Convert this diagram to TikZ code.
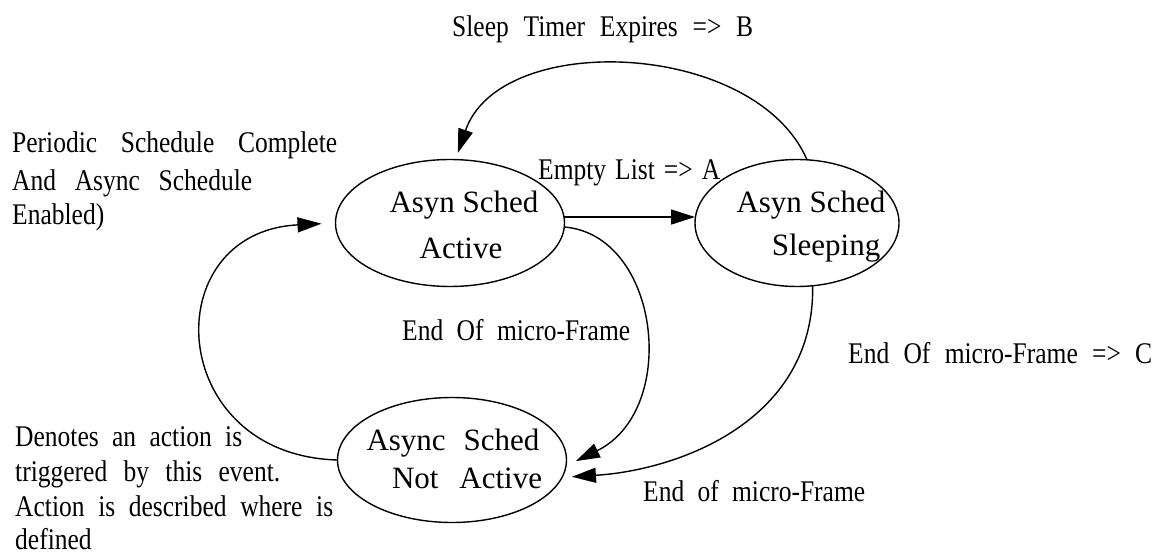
\documentclass[tikz,border=0pt]{standalone}
\usepackage{fontspec}
\setmainfont{Liberation Serif}
\newfontfamily\cond[FakeStretch=0.85]{Liberation Serif}
\usetikzlibrary{shapes.geometric,arrows.meta}
\tikzset{
  state/.style={draw, ellipse, line width=1.4pt, inner sep=0pt, outer sep=0pt},
  lbl/.style={inner sep=0pt, anchor=base west, font=\cond\fontsize{30}{30}\selectfont},
  stxt/.style={inner sep=0pt, anchor=base, font=\fontsize{31}{31}\selectfont},
  conn/.style={line width=1.4pt, -{Triangle[length=24pt,width=15pt]}},
}
\begin{document}
\begin{tikzpicture}[x=1pt,y=-1pt]
\useasboundingbox (0,0) rectangle (1156,556);
% states
\node[state, minimum width=229pt, minimum height=127pt] (act) at (450,223) {};
\node[state, minimum width=204pt, minimum height=127pt] (slp) at (797,223) {};
\node[state, minimum width=229pt, minimum height=125pt] (nact) at (452,460) {};
% state texts
\node[stxt] (act1) at (464,213) {Asyn Sched};
\node[stxt] (act2) at (461,258) {Active};
\node[stxt] (slp1) at (811,212) {Asyn Sched};
\node[stxt] (slp2) at (826,255) {Sleeping};
\node[stxt] (nact1) at (453,450) {\makebox[173pt][s]{Async Sched}};
\node[stxt] (nact2) at (467,488) {\makebox[150pt][s]{Not Active}};
% annotations
\node[lbl] (sleep) at (452,37) {\makebox[301pt][s]{Sleep Timer Expires => B}};
\node[lbl] (per1) at (12,153) {\makebox[325pt][s]{Periodic Schedule Complete}};
\node[lbl] (per2) at (12,190) {\makebox[240pt][s]{And Async Schedule}};
\node[lbl] (per3) at (12,224) {Enabled)};
\node[lbl] (empty) at (538,180) {\makebox[182pt][s]{Empty List => A}};
\node[lbl] (eomf) at (402,340) {\makebox[228pt][s]{End Of micro-Frame}};
\node[lbl] (eomfc) at (848,363) {\makebox[304pt][s]{End Of micro-Frame => C}};
\node[lbl] (eomf2) at (643,501) {\makebox[222pt][s]{End of micro-Frame}};
\node[lbl] (den1) at (15,446) {\makebox[227pt][s]{Denotes an action is}};
\node[lbl] (den2) at (15,481) {\makebox[265pt][s]{triggered by this event.}};
\node[lbl] (den3) at (15,516) {\makebox[318pt][s]{Action is described where is}};
\node[lbl] (den4) at (15,549) {defined};
% connectors
\draw[conn, shorten >=7pt] (slp.81) .. controls (755,40) and (500,30) .. (act.85);
\draw[conn] (act.3) -- (act.3 -| slp.west);
\draw[conn, shorten >=11pt] (act.-2) .. controls (660,235) and (680,410) .. (nact.-3);
\draw[conn, shorten >=10pt] (slp.-76) .. controls (815,420) and (680,470) .. (nact.-9);
\draw[conn, shorten >=14pt] (nact.west) .. controls (165,455) and (155,232) .. (act.west);
\end{tikzpicture}
\end{document}
